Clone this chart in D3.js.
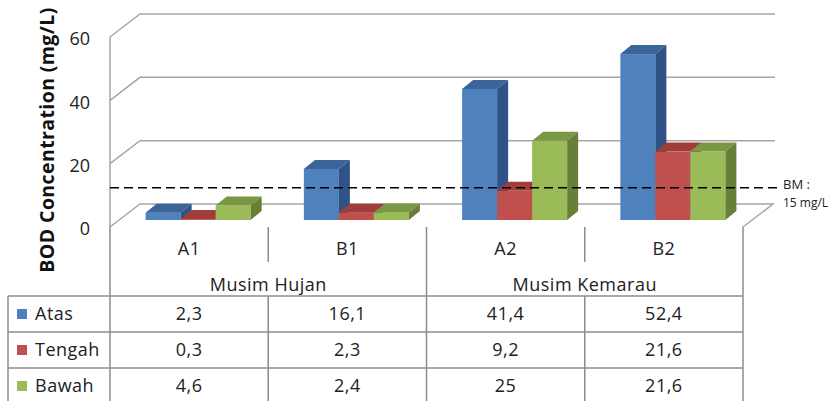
<!DOCTYPE html>
<html>
<head>
<meta charset="utf-8">
<script src="https://cdn.jsdelivr.net/npm/d3@7"></script>
<style>
  body { margin: 0; background: #fff; }
  svg { font-family: "Open Sans", "Noto Sans", sans-serif; }
</style>
</head>
<body>
<svg id="chart" width="833" height="401"></svg>
<script>
// data
const categories = ["A1", "B1", "A2", "B2"];
const seasons = ["Musim Hujan", "Musim Kemarau"];
const seriesNames = ["Atas", "Tengah", "Bawah"];
const atas = [2.3, 16.1, 41.4, 52.4];
const tengah = [0.3, 2.3, 9.2, 21.6];
const bawah = [4.6, 2.4, 25, 21.6];
const yTicks = [0, 20, 40, 60];
const bmLevel = 10.2; // where the dashed line sits in the picture
const bmLabel = ["BM :", "15 mg/L"];

const seriesValues = [atas, tengah, bawah];
const fronts = ["#4F81BD", "#C0504D", "#9BBB59"];
const tops = ["#3B6499", "#A03C3A", "#7A9743"];
const sides = ["#2F5386", "#8A3331", "#687F38"];

const svg = d3.select("#chart");

const x = d3.scaleBand().domain(categories).range([110, 743]);
const inner = d3.scaleBand().domain(seriesNames).range([0, x.bandwidth()]).paddingOuter(0.76);
const y = d3.scaleLinear().domain([0, 60]).range([227, 37]);

const wall = { dx: 30, dy: -23 };   // back wall offset
const plane = { dx: 9, dy: -7 };    // where bars stand
const depth = { dx: 11, dy: -9 };   // bar thickness

const grid = "#a6a6a6";
const line = d3.line();

// back wall gridlines + left wall diagonals
yTicks.forEach(t => {
  const yf = y(t);
  if (t > 0) {
    svg.append("path")
      .attr("d", line([[110, yf], [110 + wall.dx, yf + wall.dy], [775, yf + wall.dy]]))
      .attr("fill", "none").attr("stroke", grid).attr("stroke-width", 1.5);
  }
});

// floor
svg.append("path")
  .attr("d", line([[110, y(0)], [110 + wall.dx, y(0) + wall.dy], [773, y(0) + wall.dy], [743, y(0)]]))
  .attr("fill", "none").attr("stroke", grid).attr("stroke-width", 1.5);

// left wall front edge
svg.append("line")
  .attr("x1", 110).attr("x2", 110).attr("y1", y(60)).attr("y2", y(0))
  .attr("stroke", grid).attr("stroke-width", 1.5);

// y tick labels
svg.append("g").selectAll("text").data(yTicks).join("text")
  .attr("x", 90).attr("y", d => y(d) + 2).attr("dy", "0.35em")
  .attr("text-anchor", "end").attr("font-size", 18).attr("fill", "#222")
  .text(d => d);

// y title
svg.append("text")
  .attr("transform", "translate(54,140) rotate(-90)")
  .attr("text-anchor", "middle").attr("font-size", 19.5).attr("font-weight", "bold")
  .attr("letter-spacing", 0.4)
  .attr("fill", "#111")
  .text("BOD Concentration (mg/L)");

// bars
categories.forEach((cat, ci) => {
  seriesNames.forEach((s, si) => {
    const v = seriesValues[si][ci];
    const x0 = x(cat) + inner(s) + plane.dx;
    const w = inner.bandwidth();
    const yt = y(v) + plane.dy;
    const yb = y(0) + plane.dy;
    const g = svg.append("g");
    g.append("rect").attr("x", x0).attr("y", yt).attr("width", w).attr("height", yb - yt)
      .attr("fill", fronts[si]);
    g.append("path")
      .attr("d", line([[x0, yt], [x0 + depth.dx, yt + depth.dy], [x0 + w + depth.dx, yt + depth.dy], [x0 + w, yt]]) + "Z")
      .attr("fill", tops[si]);
    g.append("path")
      .attr("d", line([[x0 + w, yt], [x0 + w + depth.dx, yt + depth.dy], [x0 + w + depth.dx, yb + depth.dy], [x0 + w, yb]]) + "Z")
      .attr("fill", sides[si]);
  });
});

// BM dashed line
const yBM = y(bmLevel) + plane.dy;
svg.append("line")
  .attr("x1", 110).attr("x2", 777).attr("y1", yBM).attr("y2", yBM)
  .attr("stroke", "#000").attr("stroke-width", 1.5).attr("stroke-dasharray", "9,5");
svg.append("text").attr("x", 783).attr("y", yBM + 1).attr("font-size", 13).attr("fill", "#222").text(bmLabel[0]);
svg.append("text").attr("x", 783).attr("y", yBM + 19).attr("font-size", 12).attr("fill", "#222").text(bmLabel[1]);

// table
const tb = "#8c8c8c";
const rowTop = 296, rowH = 36;
const tableLeft = 8;
const hl = (x1, x2, yy) => svg.append("line").attr("x1", x1).attr("x2", x2).attr("y1", yy).attr("y2", yy)
  .attr("stroke", tb).attr("stroke-width", 1.5);
const vl = (xx, y1, y2) => svg.append("line").attr("x1", xx).attr("x2", xx).attr("y1", y1).attr("y2", y2)
  .attr("stroke", tb).attr("stroke-width", 1.5);

// category header lines
vl(110, y(0), 401);
vl(743, y(0), 401);
vl(x("A2"), y(0), 401);
vl(x("B1"), y(0), 262);
vl(x("B2"), y(0), 262);
vl(x("B1"), rowTop, 401);
vl(x("B2"), rowTop, 401);
vl(tableLeft, rowTop, 401);
hl(tableLeft, 743, rowTop);
hl(tableLeft, 743, rowTop + rowH);
hl(tableLeft, 743, rowTop + 2 * rowH);

const fs = 18;
const ls = 0.5;
svg.append("g").selectAll("text").data(categories).join("text")
  .attr("x", d => x(d) + x.bandwidth() / 2).attr("y", 249).attr("dy", "0.35em")
  .attr("text-anchor", "middle").attr("font-size", fs).attr("letter-spacing", ls).attr("fill", "#222").text(d => d);

svg.append("g").selectAll("text").data(seasons).join("text")
  .attr("x", (d, i) => x(categories[i * 2]) + x.bandwidth())
  .attr("y", 285).attr("dy", "0.35em")
  .attr("text-anchor", "middle").attr("font-size", fs).attr("letter-spacing", ls).attr("fill", "#222").text(d => d);

const fmt = v => String(v).replace(".", ",");
seriesNames.forEach((s, si) => {
  const cy = rowTop + rowH * si + rowH / 2;
  svg.append("rect").attr("x", 17).attr("y", cy - 5).attr("width", 10).attr("height", 10).attr("fill", fronts[si]);
  svg.append("text").attr("x", 35).attr("y", cy).attr("dy", "0.35em")
    .attr("font-size", fs).attr("letter-spacing", ls).attr("fill", "#222").text(s);
  svg.append("g").selectAll("text").data(seriesValues[si]).join("text")
    .attr("x", (d, i) => x(categories[i]) + x.bandwidth() / 2).attr("y", cy).attr("dy", "0.35em")
    .attr("text-anchor", "middle").attr("font-size", fs).attr("letter-spacing", ls).attr("fill", "#222").text(d => fmt(d));
});
</script>
</body>
</html>
